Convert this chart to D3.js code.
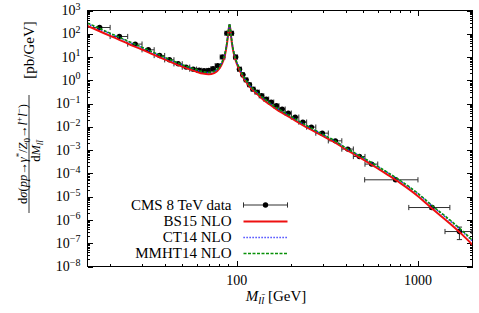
<!DOCTYPE html>
<html><head><meta charset="utf-8">
<script src="https://cdn.jsdelivr.net/npm/d3@7"></script>
<style>
body{margin:0;background:#fff;}
svg{display:block;}
text{font-family:"Liberation Serif","DejaVu Serif",serif;fill:#000;}
</style>
</head><body>
<svg id="chart" width="479" height="313"></svg>
<script>
// ---- CMS 8 TeV data ----
const massCenter = [17.5,22.5,27.5,32.5,37.5,42.5,47.5,52.5,57.5,62,66,70,74,78.5,83.5,88.5,93.5,98.5,103.5,108,112.5,117.5,123,129.5,137,145.5,155,165.5,178,192.5,210,231.5,258,296.5,350,410,475,555,753,1194,1694];
const massLow = [15,20,25,30,35,40,45,50,55,60,64,68,72,76,81,86,91,96,101,106,110,115,120,126,133,141,150,160,171,185,200,220,243,273,320,380,440,510,508,890,1410];
const massHigh = [20,25,30,35,40,45,50,55,60,64,68,72,76,81,86,91,96,101,106,110,115,120,126,133,141,150,160,171,185,200,220,243,273,320,380,440,510,600,1000,1500,1970];
const cmsData = [186,76.4,36.0,20.5,11.6,7.60,5.12,3.69,3.02,2.69,2.57,2.63,3.16,4.27,10.0,105,105,10.0,3.02,1.73,1.05,0.646,0.417,0.311,0.216,0.156,0.116,0.0804,0.0579,0.0390,0.0262,0.0160,0.00977,0.00537,0.00251,0.00111,5.32e-4,2.51e-4,5.31e-5,3.42e-6,3.18e-7];
const cmsErrPct = [4,3,3,3,3,3,3,3,3,3,3,3,3,3,2,2,2,2,2,2,2,2,2,2,2,2,3,3,3,3,3,3,4,4,4,5,6,8,10,15,55];

// ---- NLO predictions: log10(dσ/dM) at curve masses ----
const curveMass = [15,17.5,20,22.5,25,30,35,40,45,50,55,60,65,70,75,78,80,82,84,86,87,88,89,90,90.5,91,91.2,91.5,92,92.5,93,94,95,96,98,100,103,106,110,115,120,130,140,150,165,180,200,230,260,300,350,400,450,500,600,700,800,1000,1200,1500,1750,2000];
const bs15Log = [2.34,2.11,1.91,1.74,1.58,1.32,1.09,0.90,0.73,0.59,0.47,0.37,0.29,0.26,0.31,0.40,0.50,0.63,0.82,1.08,1.27,1.50,1.78,2.10,2.26,2.36,2.38,2.35,2.23,2.06,1.89,1.60,1.37,1.19,0.92,0.72,0.48,0.27,0.05,-0.17,-0.35,-0.60,-0.83,-1.01,-1.24,-1.42,-1.63,-1.91,-2.14,-2.40,-2.68,-2.97,-3.20,-3.41,-3.79,-4.12,-4.42,-4.98,-5.52,-6.15,-6.62,-7.07];
const ct14Log = [2.43,2.20,2.00,1.83,1.67,1.40,1.17,0.97,0.80,0.66,0.54,0.44,0.36,0.33,0.38,0.47,0.57,0.70,0.89,1.14,1.33,1.55,1.83,2.15,2.31,2.41,2.43,2.40,2.28,2.11,1.94,1.65,1.42,1.24,0.97,0.77,0.54,0.33,0.11,-0.11,-0.29,-0.54,-0.77,-0.95,-1.18,-1.36,-1.57,-1.85,-2.08,-2.34,-2.62,-2.91,-3.14,-3.34,-3.71,-4.03,-4.33,-4.88,-5.41,-6.03,-6.48,-6.91];
const mmht14Log = [2.46,2.23,2.02,1.85,1.69,1.42,1.19,0.99,0.82,0.67,0.55,0.45,0.37,0.34,0.39,0.48,0.58,0.71,0.90,1.15,1.34,1.56,1.84,2.16,2.32,2.41,2.43,2.40,2.29,2.12,1.95,1.66,1.43,1.25,0.98,0.78,0.55,0.34,0.12,-0.10,-0.28,-0.53,-0.76,-0.94,-1.17,-1.35,-1.56,-1.84,-2.07,-2.33,-2.61,-2.90,-3.13,-3.33,-3.70,-4.02,-4.31,-4.86,-5.39,-6.00,-6.45,-6.88];

// ---- axes ----
const xMajor = [100,1000];
const xMinor = [20,30,40,50,60,70,80,90,200,300,400,500,600,700,800,900];
const xTickLabels = ["100","1000"];
const yExponents = [3,2,1,0,-1,-2,-3,-4,-5,-6,-7,-8];
const legendLabels = ["CMS 8 TeV data","BS15 NLO","CT14 NLO","MMHT14 NLO"];

const L=87.5, R=472.5, T=10.5, B=266.5;
const svg = d3.select("#chart");
const x = d3.scaleLog().domain([15,2000]).range([L,R]);
const y = d3.scaleLog().domain([1e-8,1e3]).range([B,T]);

const yMajor = yExponents.map(e=>Math.pow(10,e));
const yMinor = [];
yExponents.forEach(e=>{ if(e<3){ for(let k=2;k<=9;k++) yMinor.push(k*Math.pow(10,e)); }});

function ax(gen, vals, size, tr){
  const g = svg.append("g").attr("transform",tr)
    .call(gen.tickValues(vals).tickSize(size).tickFormat(""));
  g.select(".domain").remove();
  g.selectAll("line").attr("stroke","#000").attr("stroke-width",1).attr("shape-rendering","crispEdges");
}
ax(d3.axisBottom(x), xMajor, -5.5, `translate(0,${B})`);
ax(d3.axisBottom(x), xMinor, -2.8, `translate(0,${B})`);
ax(d3.axisTop(x), xMajor, -5.5, `translate(0,${T})`);
ax(d3.axisTop(x), xMinor, -2.8, `translate(0,${T})`);
ax(d3.axisLeft(y), yMajor, -5.5, `translate(${L},0)`);
ax(d3.axisLeft(y), yMinor, -2.8, `translate(${L},0)`);
ax(d3.axisRight(y), yMajor, -5.5, `translate(${R},0)`);
ax(d3.axisRight(y), yMinor, -2.8, `translate(${R},0)`);

// tick labels
xMajor.forEach((v,i)=>{
  svg.append("text").attr("x",x(v)).attr("y",284.5).attr("text-anchor","middle")
    .attr("font-size",14).text(xTickLabels[i]);
});
yExponents.forEach(e=>{
  const t = svg.append("text").attr("x",80.5).attr("y",y(Math.pow(10,e))+4.6)
    .attr("text-anchor","end").attr("font-size",14);
  t.append("tspan").text("10");
  t.append("tspan").attr("dy",-5.5).attr("font-size",10).text(e<0?("\u2212"+(-e)):String(e));
});

// data
const clipId="clipP";
svg.append("clipPath").attr("id",clipId).append("rect").attr("x",L).attr("y",T).attr("width",R-L).attr("height",B-T);
const pg = svg.append("g").attr("clip-path",`url(#${clipId})`);
const ebc="#303030";
cmsData.forEach((v,i)=>{
  const cy=y(v), x0=x(massLow[i]), x1=x(massHigh[i]), cx=x(massCenter[i]);
  const e=v*cmsErrPct[i]/100, y0=y(v+e), y1=y(Math.max(v-e,1e-12));
  const g=pg.append("g").attr("stroke",ebc).attr("stroke-width",1);
  g.append("line").attr("x1",x0).attr("x2",x1).attr("y1",cy).attr("y2",cy);
  g.append("line").attr("x1",x0).attr("x2",x0).attr("y1",cy-2.6).attr("y2",cy+2.6);
  g.append("line").attr("x1",x1).attr("x2",x1).attr("y1",cy-2.6).attr("y2",cy+2.6);
  g.append("line").attr("x1",cx).attr("x2",cx).attr("y1",y0).attr("y2",y1);
  g.append("line").attr("x1",cx-2.6).attr("x2",cx+2.6).attr("y1",y0).attr("y2",y0);
  g.append("line").attr("x1",cx-2.6).attr("x2",cx+2.6).attr("y1",y1).attr("y2",y1);
  pg.append("circle").attr("cx",cx).attr("cy",cy).attr("r",2.7).attr("fill","#000");
});

// curves
const line = d3.line().x(d=>x(d[0])).y(d=>y(d[1])).curve(d3.curveMonotoneX);
const series = [
  {vals:bs15Log, color:"#ee1010", w:2, dash:null},
  {vals:ct14Log, color:"#1a1aff", w:1.5, dash:"1.2,1.8"},
  {vals:mmht14Log, color:"#089108", w:1.6, dash:"3,1.5"}
];
series.forEach(s=>{
  const pts = curveMass.map((m,i)=>[m,Math.pow(10,s.vals[i])]);
  const p = pg.append("path").attr("d",line(pts)).attr("fill","none")
    .attr("stroke",s.color).attr("stroke-width",s.w);
  if(s.dash) p.attr("stroke-dasharray",s.dash);
});

// frame
svg.append("rect").attr("x",L).attr("y",T).attr("width",R-L).attr("height",B-T)
  .attr("fill","none").attr("stroke","#000").attr("stroke-width",1).attr("shape-rendering","crispEdges");

// legend
const lgX0=243.5, lgX1=287.5, lgTextX=231.5, lgY=[205,221.5,237.5,253.5];
legendLabels.forEach((lab,i)=>{
  svg.append("text").attr("x",lgTextX).attr("y",lgY[i]+4.8).attr("text-anchor","end")
    .attr("font-size",15).text(lab);
});
{
  const g=svg.append("g").attr("stroke",ebc).attr("stroke-width",1);
  g.append("line").attr("x1",lgX0).attr("x2",lgX1).attr("y1",lgY[0]).attr("y2",lgY[0]);
  g.append("line").attr("x1",lgX0).attr("x2",lgX0).attr("y1",lgY[0]-2.6).attr("y2",lgY[0]+2.6);
  g.append("line").attr("x1",lgX1).attr("x2",lgX1).attr("y1",lgY[0]-2.6).attr("y2",lgY[0]+2.6);
  svg.append("circle").attr("cx",(lgX0+lgX1)/2).attr("cy",lgY[0]).attr("r",2.7).attr("fill","#000");
}
series.forEach((s,i)=>{
  const p=svg.append("line").attr("x1",lgX0).attr("x2",lgX1).attr("y1",lgY[i+1]).attr("y2",lgY[i+1])
    .attr("stroke",s.color).attr("stroke-width",s.w);
  if(s.dash) p.attr("stroke-dasharray",s.dash);
});

// helper for rich text
function rich(t, segs){
  let shift=0;
  segs.forEach(s=>{
    const sp=t.append("tspan").text(s.t);
    const target = s.sub?3:(s.sup?-5:0);
    if(target!==shift){ sp.attr("dy",target-shift); shift=target; }
    if(s.i) sp.attr("font-style","italic");
    if(s.sub||s.sup) sp.attr("font-size",s.fs||"0.72em");
  });
}

// x title
{
  const t=svg.append("text").attr("x",276).attr("y",300.5).attr("text-anchor","middle").attr("font-size",15);
  rich(t,[{t:"M",i:true},{t:"ll\u0304",i:true,sub:true},{t:" [GeV]"}]);
}
// y title
{
  const g=svg.append("g").attr("transform","translate(29,154) rotate(-90)");
  const num=g.append("text").attr("x",0).attr("y",-2.5).attr("text-anchor","middle").attr("font-size",12.5);
  rich(num,[{t:"d"},{t:"σ",i:true},{t:"("},{t:"pp",i:true},{t:"→"},{t:"γ",i:true},{t:"*",sup:true},{t:"/"},{t:"Z",i:true},{t:"0",sub:true},{t:"→"},{t:"l",i:true},{t:"+",sup:true},{t:"l",i:true},{t:"\u2212",sup:true},{t:")"}]);
  g.append("line").attr("x1",-59).attr("x2",59).attr("y1",0).attr("y2",0).attr("stroke","#000").attr("stroke-width",0.8);
  const den=g.append("text").attr("x",3).attr("y",11).attr("text-anchor","middle").attr("font-size",12.5);
  rich(den,[{t:"d"},{t:"M",i:true},{t:"ll\u0304",i:true,sub:true}]);
  g.append("text").attr("x",104).attr("y",4.5).attr("text-anchor","middle").attr("font-size",15).text("[pb/GeV]");
}
</script>
</body></html>
